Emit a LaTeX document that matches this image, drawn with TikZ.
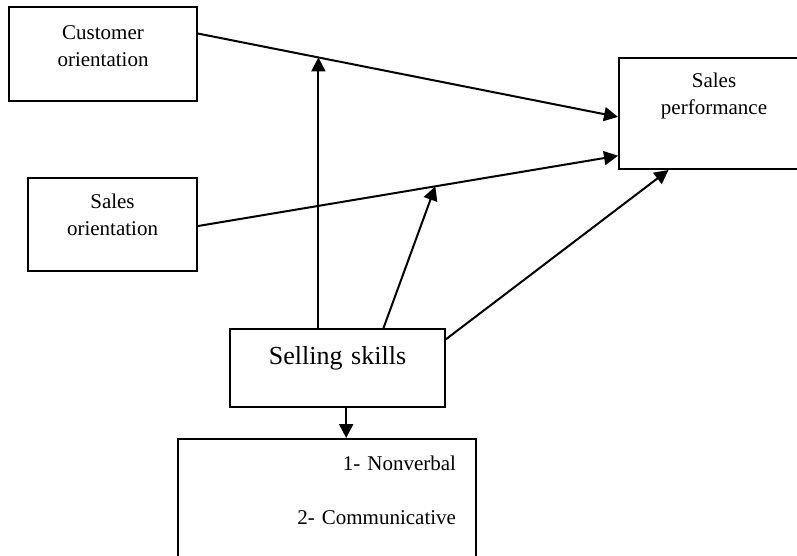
\documentclass[tikz,border=0pt]{standalone}
\usepackage{fontspec}
\setmainfont{Liberation Serif}
\usetikzlibrary{arrows.meta}
\usetikzlibrary{positioning}
\usetikzlibrary{calc}

\begin{document}
\begin{tikzpicture}[x=1pt, y=-1pt,
                line width=2pt,
                >={Triangle[length=14pt, width=14pt]},
                every node/.style = {shape=rectangle, draw, inner sep=0pt, anchor=north west,
                                     font=\fontsize{21}{27}\selectfont, align=center},
                bigtext/.style = {font=\fontsize{26}{31}\selectfont}]
            \path[use as bounding box, clip] (0,0) rectangle (797,556);

            \node (q_custor) [text width=188pt, text height=33pt, text depth=61pt] at (8,6) {Customer \\ orientation};
            \node (q_perf) [text width=190pt, text height=30pt, text depth=81pt] at (618,57) {Sales \\ performance};
            \node (q_salesor) [text width=169pt, text height=30pt, text depth=63pt] at (27,177) {Sales \\ orientation};

            \node (q_skills) [bigtext, text width=215pt, text height=35pt, text depth=43pt] at (229,328) {Selling skills};
            \node (q_kinds) [text width=258pt, inner xsep=20pt, align=right, text height=31pt, text depth=109pt,
                             font=\fontsize{21}{54}\selectfont] at (177,438) {1- Nonverbal \\ 2- Communicative};

            % main effects
            \draw[->] ($(q_custor.north east)!0.287!(q_custor.south east)$)
                -- coordinate[pos=0.2867] (q_mod1) ($(q_perf.north west)!0.53!(q_perf.south west)$);
            \draw[->] ($(q_salesor.north east)!0.516!(q_salesor.south east)$)
                -- coordinate[pos=0.565] (q_mod2) ($(q_perf.north west)!0.874!(q_perf.south west)$);

            \coordinate (q_down) at ($(q_skills.south west)!0.54!(q_skills.south east)$);

            \path[->]
            (q_mod1 |- q_skills.north)                                     edge (q_mod1)
            ($(q_skills.north west)!0.712!(q_skills.north east)$)          edge (q_mod2)
            ($(q_skills.north east)!0.14!(q_skills.south east)$)           edge ($(q_perf.south west)!0.263!(q_perf.south east)$)
            (q_down)                                                       edge (q_down |- q_kinds.north);
        \end{tikzpicture}
\end{document}
